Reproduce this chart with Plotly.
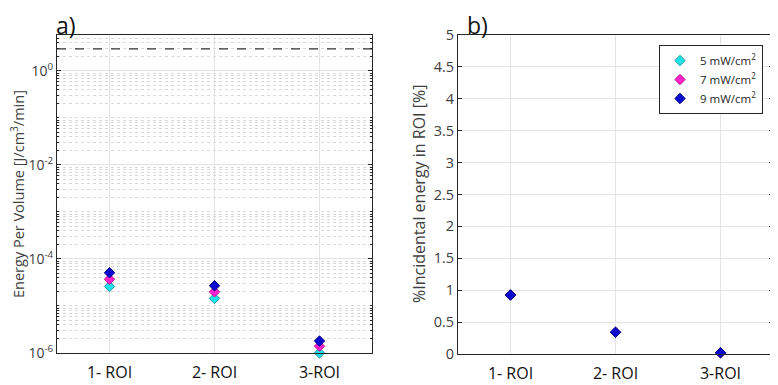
import numpy as np
import plotly.graph_objects as go

categories = ["1- ROI", "2- ROI", "3-ROI"]
series_names = ["5 mW/cm<sup>2</sup>", "7 mW/cm<sup>2</sup>", "9 mW/cm<sup>2</sup>"]
series_colors = ["#22e0e8", "#ff22cc", "#0a0ad0"]
edge_colors = ["#1a9aa0", "#c01a9c", "#00008a"]

energy_5 = [2.6e-5, 1.45e-5, 1.0e-6]
energy_7 = [3.7e-5, 2.0e-5, 1.4e-6]
energy_9 = [5.1e-5, 2.7e-5, 1.8e-6]
threshold = 2.95

pct_5 = [0.925, 0.34, 0.02]
pct_7 = [0.925, 0.34, 0.02]
pct_9 = [0.925, 0.34, 0.02]

y_major = [1e-6, 1e-4, 1e-2, 1e0]
y_major_text = ["10<sup>-6</sup>", "10<sup>-4</sup>", "10<sup>-2</sup>", "10<sup>0</sup>"]
y2_ticks = [0, 0.5, 1, 1.5, 2, 2.5, 3, 3.5, 4, 4.5, 5]
y2_text = ["0", "0.5", "1", "1.5", "2", "2.5", "3", "3.5", "4", "4.5", "5"]

xpos = [1, 2, 3]
minor_vals = [k * 10.0 ** n for n in range(-6, 1) for k in range(1, 10)
              if not (k == 1 and n % 2 == 0)]

# page body adds an 8px margin: figure is drawn 8px in from the window edge
OFF = 8
W, H = 778 - OFF, 385 - OFF


def fx(px):
    return (px - OFF) / W


def fy(py):
    return 1 - (py - OFF) / H


fig = go.Figure()
energy = [energy_5, energy_7, energy_9]
pct = [pct_5, pct_7, pct_9]
for i in range(3):
    fig.add_trace(go.Scatter(
        x=xpos, y=energy[i], mode="markers", xaxis="x", yaxis="y",
        marker=dict(symbol="diamond", size=8, color=series_colors[i],
                    line=dict(color=edge_colors[i], width=1)),
        showlegend=False, cliponaxis=False))
fig.add_trace(go.Scatter(
    x=[0.5, 3.5], y=[threshold, threshold], mode="lines", xaxis="x", yaxis="y",
    line=dict(color="#333333", width=1.3, dash="dash"), showlegend=False))
for i in range(3):
    fig.add_trace(go.Scatter(
        x=xpos, y=pct[i], mode="markers", xaxis="x2", yaxis="y2",
        name=series_names[i],
        marker=dict(symbol="diamond", size=8, color=series_colors[i],
                    line=dict(color=edge_colors[i], width=1)),
        cliponaxis=False))

axis_common = dict(showline=True, linecolor="#262626", linewidth=1, mirror="ticks",
                   ticks="inside", ticklen=4, tickcolor="#262626",
                   zeroline=False, gridcolor="#e3e3e3", gridwidth=1,
                   automargin=False)
xcommon = dict(axis_common, tickmode="array", tickvals=xpos, ticktext=categories,
               range=[0.5, 3.5], tickfont=dict(size=16, color="#111111",
                                                 family="Open Sans"), ticklen=0,
               ticklabelstandoff=5)

fig.update_layout(
    width=W, height=H, margin=dict(l=0, r=0, t=0, b=0, autoexpand=False),
    paper_bgcolor="white", plot_bgcolor="white",
    font=dict(family="Open Sans", color="#404040"),
    xaxis=dict(xcommon, domain=[fx(57), fx(372)], anchor="y"),
    yaxis=dict(axis_common, type="log", domain=[fy(353), fy(35)],
               range=[-6, 0.765], tickmode="array", tickvals=y_major,
               ticktext=y_major_text, tickfont=dict(size=14, color="#404040"),
               minor=dict(tickmode="array", tickvals=minor_vals, showgrid=True,
                          gridcolor="#d9d9d9", griddash="dot", ticks="inside",
                          ticklen=2, tickcolor="#262626"),
               anchor="x"),
    xaxis2=dict(xcommon, domain=[fx(458), fx(773)], anchor="y2"),
    yaxis2=dict(axis_common, domain=[fy(354), fy(35)], range=[0, 5],
                tickmode="array", tickvals=y2_ticks, ticktext=y2_text,
                tickfont=dict(size=14.5, color="#404040"),
                anchor="x2"),
    legend=dict(x=fx(763), xanchor="right", y=fy(45), yanchor="top",
                bordercolor="#262626", borderwidth=1, bgcolor="white",
                font=dict(size=11.5, color="#262626"), itemwidth=30,
                tracegroupgap=0),
    annotations=[
        dict(text="a)", x=fx(55), y=1, xref="paper", yref="paper",
             xanchor="left", yanchor="top", showarrow=False, borderpad=0,
             font=dict(size=23, color="#111111", family="Open Sans")),
        dict(text="b)", x=fx(466), y=1, xref="paper", yref="paper",
             xanchor="left", yanchor="top", showarrow=False, borderpad=0,
             font=dict(size=23, color="#111111", family="Open Sans")),
        dict(text="Energy Per Volume [J/cm<sup>3</sup>/min]", textangle=-90,
             x=fx(17), y=fy(194), xref="paper", yref="paper",
             xanchor="center", yanchor="middle", showarrow=False,
             font=dict(size=14.5, color="#404040")),
        dict(text="%Incidental energy in ROI [%]", textangle=-90,
             x=fx(419), y=fy(194), xref="paper", yref="paper",
             xanchor="center", yanchor="middle", showarrow=False,
             font=dict(size=16, color="#404040")),
    ],
)

fig.write_html("out.html")
